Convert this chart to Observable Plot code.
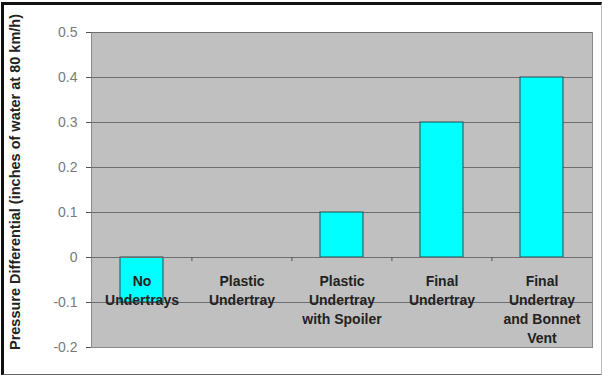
<!DOCTYPE html>
<html>
<head>
<meta charset="utf-8">
<script src="https://cdn.jsdelivr.net/npm/d3@7"></script>
<script src="https://cdn.jsdelivr.net/npm/@observablehq/plot@0.6"></script>
<style>
  html, body { margin: 0; padding: 0; background: #fff; }
  #wrap { position: relative; width: 602px; height: 375px; overflow: hidden; }
  #frame { position: absolute; left: 1px; top: 2px; width: 597px; height: 369px;
           border-left: 3px solid #111; border-top: 3px solid #111;
           border-bottom: 2px solid #666; border-right: 1px solid #bbb;
           pointer-events: none; }
</style>
</head>
<body>
<div id="wrap"><div id="frame"></div></div>
<script>
const categories = [
  "No\nUndertrays",
  "Plastic\nUndertray",
  "Plastic\nUndertray\nwith Spoiler",
  "Final\nUndertray",
  "Final\nUndertray\nand Bonnet\nVent"
];
const values = [-0.1, 0, 0.1, 0.3, 0.4];
const yTicks = [-0.2, -0.1, 0, 0.1, 0.2, 0.3, 0.4, 0.5];
const yTickLabels = ["-0.2", "-0.1", "0", "0.1", "0.2", "0.3", "0.4", "0.5"];
const yTitle = "Pressure Differential (inches of water at 80 km/h)";

const data = categories.map((c, i) => ({category: c, value: values[i]}));
const font = "Arial, 'Liberation Sans', sans-serif";

const chart = Plot.plot({
  width: 602,
  height: 375,
  marginLeft: 91,
  marginRight: 10,
  marginTop: 32,
  marginBottom: 28,
  style: {fontFamily: font, background: "transparent", overflow: "visible"},
  x: {domain: categories, paddingInner: 0.57, paddingOuter: 0.285, axis: null},
  y: {domain: [-0.2, 0.5]},
  marks: [
    Plot.frame({fill: "#c0c0c0", stroke: "#8a8a8a"}),
    Plot.ruleY(yTicks.filter(d => d !== -0.2), {stroke: "#6e6e6e", strokeWidth: 1.2}),
    Plot.barY(data, {x: "category", y: "value", fill: "#00ffff", stroke: "#2a4a4a", strokeWidth: 1}),
    Plot.ruleY([0], {stroke: "#6e6e6e", strokeWidth: 1.2}),
    Plot.ruleX(categories.slice(1), {x: d => d, y1: 0, y2: -0.009, dx: -50.1, stroke: "#555"}),
    Plot.text(data, {
      x: "category", y: 0, text: "category", dy: 15, lineAnchor: "top",
      lineHeight: 1.36, fontSize: 14, fontWeight: "bold", fill: "#222"
    }),
    Plot.axisY(yTicks, {
      tickFormat: (d, i) => yTickLabels[i], tickSize: 5, tickPadding: 9,
      fontSize: 14, color: "#7a7a7a", stroke: "#555", label: null
    }),
    Plot.text([yTitle], {
      frameAnchor: "left", textAnchor: "middle", rotate: -90, dx: -76, dy: -8,
      fontSize: 14.5, fontWeight: "bold", fill: "#222"
    })
  ]
});
document.getElementById("wrap").prepend(chart);
</script>
</body>
</html>
